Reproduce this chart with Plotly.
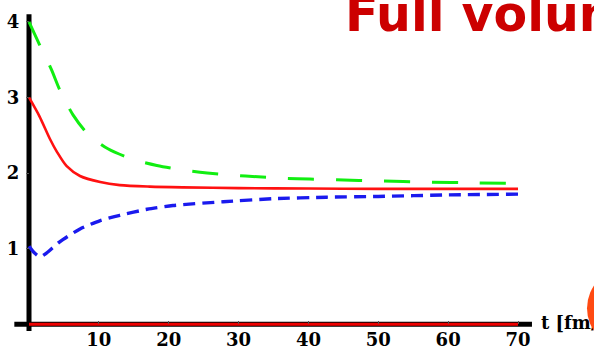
import plotly.graph_objects as go

# Time axis samples (fm/c) and the three evolving quantities
t_green = [0, 1.5, 3.2, 4.4, 6.3, 8.4, 11.3, 14.9, 18.3, 22, 25.5, 29.2, 32.8, 36.6, 40.2, 44, 50, 57, 64, 70]
v_green = [4.0, 3.70, 3.37, 3.10, 2.77, 2.52, 2.32, 2.18, 2.10, 2.04, 2.00, 1.97, 1.95, 1.93, 1.92, 1.91, 1.895, 1.88, 1.87, 1.86]

t_red = [0, 1.5, 3, 4, 5.4, 7.3, 10.2, 13, 17.3, 22, 30, 40, 50, 60, 70]
v_red = [3.0, 2.75, 2.45, 2.28, 2.09, 1.96, 1.88, 1.84, 1.82, 1.81, 1.80, 1.795, 1.79, 1.79, 1.79]

t_blue = [0, 0.8, 1.6, 2.5, 4.4, 7.3, 10.2, 13, 16.9, 20.6, 27.8, 35, 42.6, 50, 60, 70]
v_blue = [1.03, 0.94, 0.89, 0.94, 1.09, 1.26, 1.37, 1.44, 1.52, 1.57, 1.62, 1.66, 1.68, 1.69, 1.71, 1.72]

t_zero = [0, 70]
v_zero = [0, 0]

x_ticks = [10, 20, 30, 40, 50, 60, 70]
y_ticks = [1, 2, 3, 4]

title_text = "Full volume"
x_label = "t [fm/c]"

# Page geometry (pixels) used to place the axes
W, H = 594, 350
X0_PX, X70_PX = 29, 518
Y0_PX, Y4_PX = 326, 22
px_per_t = (X70_PX - X0_PX) / 70
px_per_v = (Y0_PX - Y4_PX) / 4
x_range = [-X0_PX / px_per_t, (W - X0_PX) / px_per_t]
y_range = [-(H - Y0_PX) / px_per_v, Y0_PX / px_per_v]

tick_font = dict(family="DejaVu Serif", size=18, color="black", weight="bold")

fig = go.Figure()

fig.add_trace(go.Scatter(
    x=t_zero, y=v_zero, mode="lines",
    line=dict(color="#ee0000", width=3), hoverinfo="skip", cliponaxis=False))
fig.add_trace(go.Scatter(
    x=t_green, y=v_green, mode="lines",
    line=dict(color="#11ee11", width=3, dash="26px,22px", shape="spline", smoothing=0.8),
    cliponaxis=False))
fig.add_trace(go.Scatter(
    x=t_red, y=v_red, mode="lines",
    line=dict(color="#ff1111", width=2.6, shape="spline", smoothing=0.8),
    cliponaxis=False))
fig.add_trace(go.Scatter(
    x=t_blue, y=v_blue, mode="lines",
    line=dict(color="#1a1aee", width=3.4, dash="12px,7px", shape="spline", smoothing=0.6),
    cliponaxis=False))

# Axis label as text in the plot layer so the decorative disc can overlap it
fig.add_trace(go.Scatter(
    x=[(541 - X0_PX) / px_per_t], y=[0], mode="text", text=[x_label],
    textposition="middle right", textfont=tick_font, cliponaxis=False, hoverinfo="skip"))

# Heavy black axes
fig.add_shape(type="line", xref="x", yref="y", x0=0, x1=0, y0=-0.09, y1=4.1,
              line=dict(color="black", width=5), layer="below")
fig.add_shape(type="line", xref="x", yref="y", x0=-2.1, x1=72, y0=0, y1=0,
              line=dict(color="black", width=5), layer="below")

# Decorative disc at the right edge
fig.add_shape(type="circle", xref="paper", yref="paper",
              x0=587 / W, x1=669 / W, y0=(H - 351) / H, y1=(H - 269) / H,
              fillcolor="#ff4a12", line=dict(width=0), layer="above")

fig.add_annotation(
    text=title_text, xref="paper", yref="paper", x=343 / W, y=1 - 15 / H,
    xanchor="left", yanchor="middle", showarrow=False,
    font=dict(family="DejaVu Sans", size=49, color="#cc0000", weight="bold"))

fig.update_layout(
    width=W, height=H, margin=dict(l=0, r=0, t=0, b=0),
    paper_bgcolor="white", plot_bgcolor="white", showlegend=False,
    xaxis=dict(range=x_range, domain=[0, 1], anchor="free", position=(H - Y0_PX) / H,
               showline=False, zeroline=False, showgrid=False,
               tickvals=x_ticks, ticks="inside", ticklen=3, tickcolor="#555",
               tickfont=tick_font, ticklabelstandoff=3),
    yaxis=dict(range=y_range, domain=[0, 1], anchor="free", position=X0_PX / W,
               showline=False, zeroline=False, showgrid=False,
               tickvals=y_ticks, ticks="outside", ticklen=3, tickcolor="#555",
               tickfont=tick_font, ticklabelstandoff=3),
)

fig.write_html("out.html")
